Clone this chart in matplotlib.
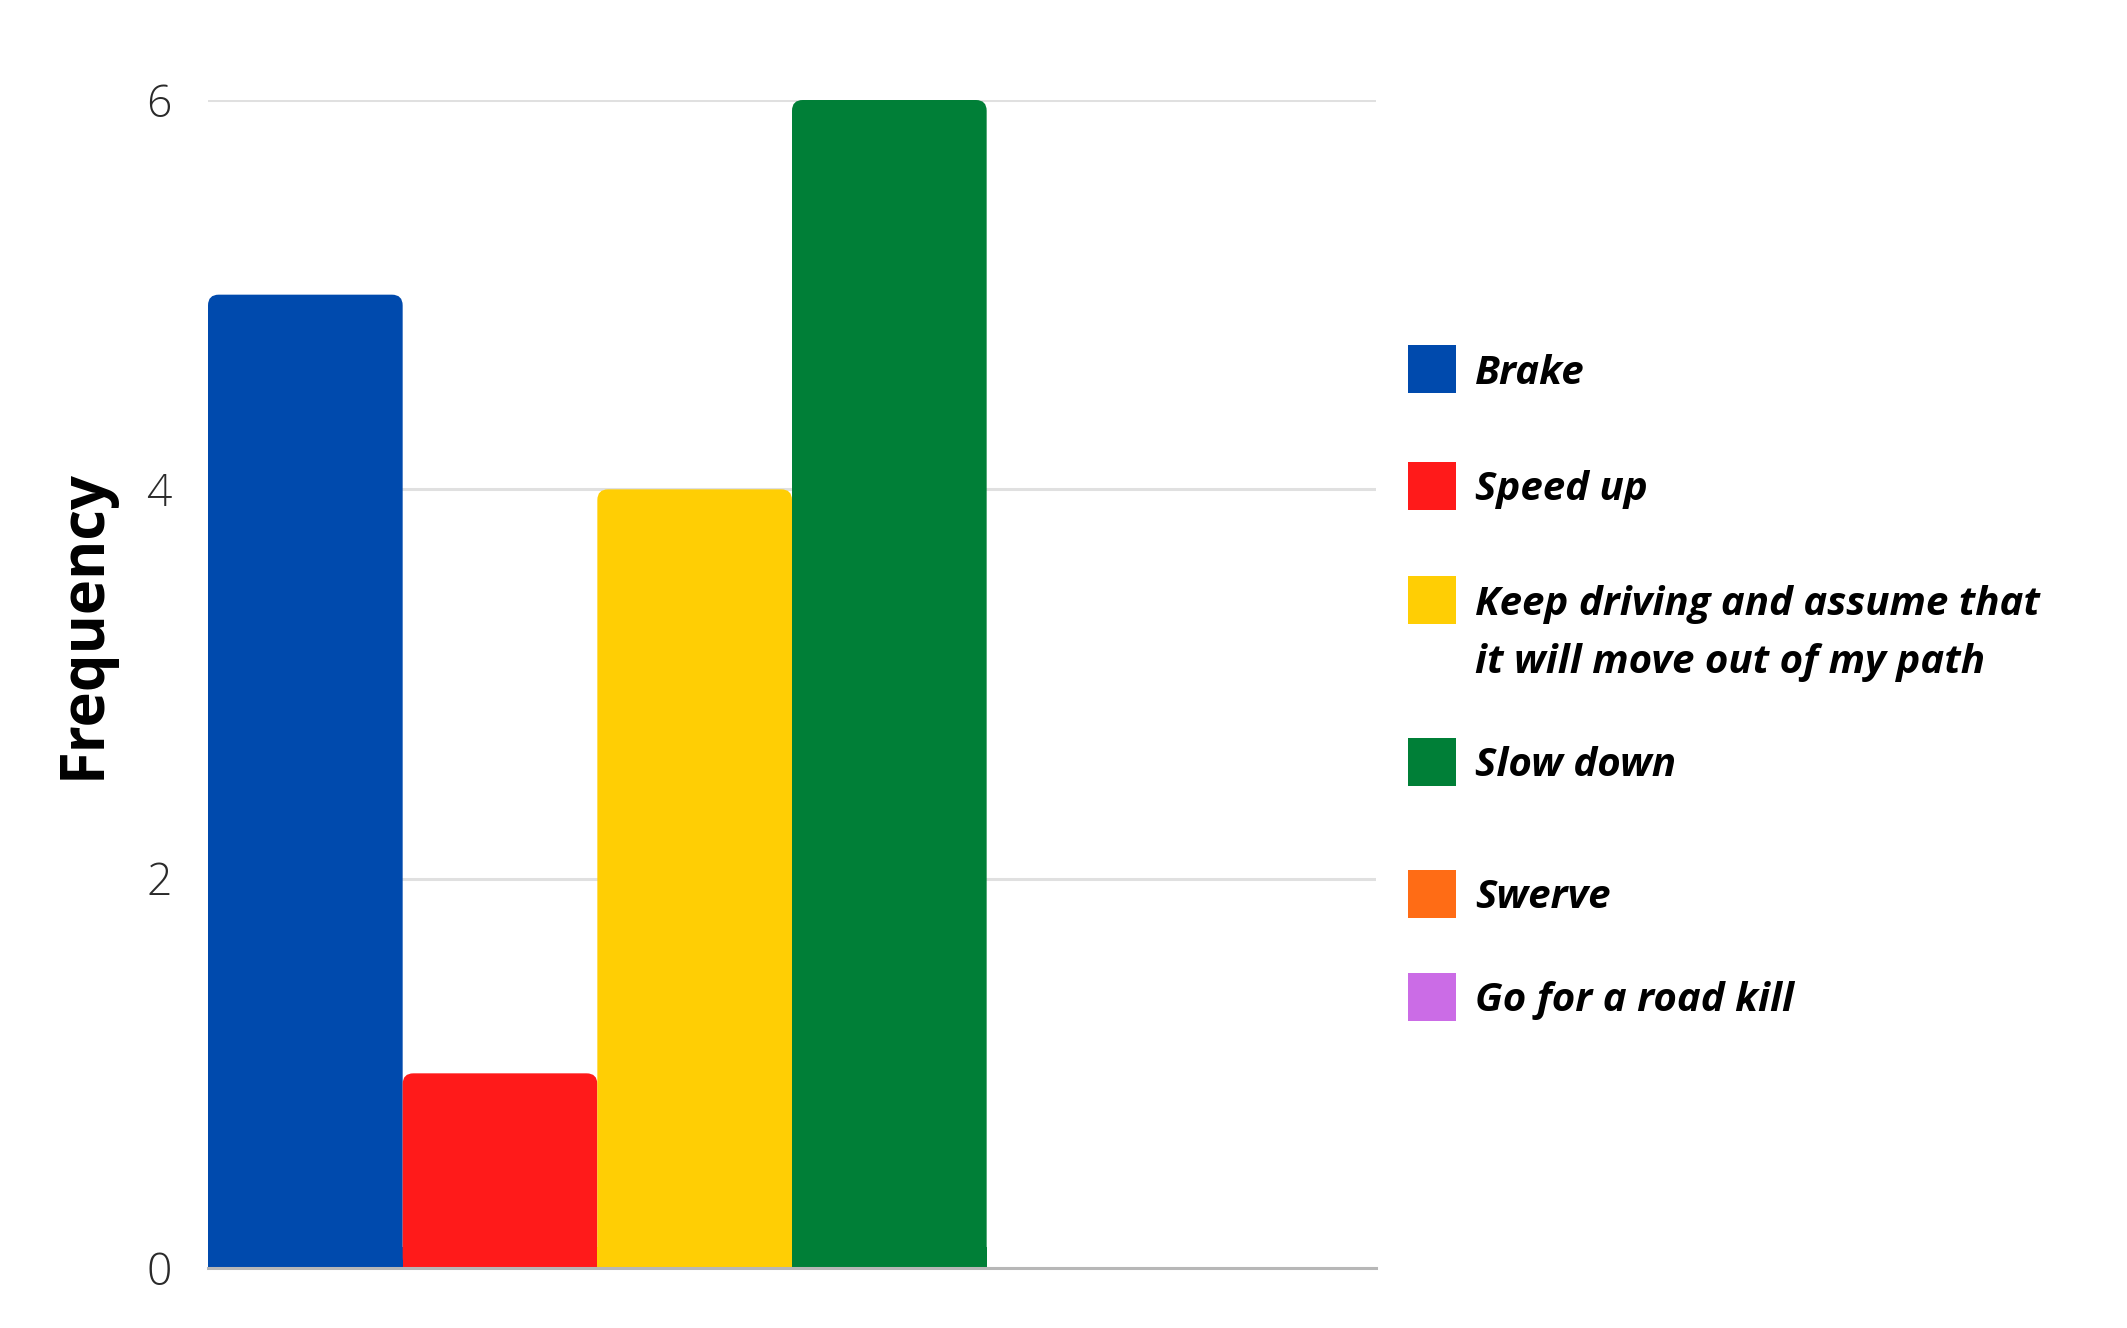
import matplotlib
matplotlib.use("Agg")
import matplotlib.pyplot as plt
from matplotlib.patches import FancyBboxPatch, Rectangle

categories = ["Brake", "Speed up", "Keep driving and assume that\nit will move out of my path",
              "Slow down", "Swerve", "Go for a road kill"]
values = [5, 1, 4, 6, 0, 0]
colors = ["#004AAD", "#FF1A1A", "#FFCE04", "#007F37", "#FF6C15", "#CB6CE6"]
yticks = [0, 2, 4, 6]

W, H = 2127, 1328
fig = plt.figure(figsize=(W / 100, H / 100), dpi=100)
fig.patch.set_facecolor("white")
ax = fig.add_axes([208 / W, 60 / H, (1376 - 208) / W, (1268 - 100) / H])

x = list(range(len(values)))
bars = ax.bar(x, values, width=1.0, color=colors, zorder=3)
r = 0.055
for b in bars:
    h = b.get_height()
    if h <= 0:
        continue
    b.set_visible(False)
    x0, w = b.get_x(), b.get_width()
    ax.add_patch(FancyBboxPatch((x0, 0), w, h, boxstyle=f"round,pad=0,rounding_size={r}",
                                mutation_aspect=1.0, fc=b.get_facecolor(), ec="none",
                                lw=0, zorder=3))
    ax.add_patch(Rectangle((x0, 0), w, min(h, 2 * r), fc=b.get_facecolor(), ec="none",
                           lw=0, zorder=3))

ax.set_xlim(-0.5, len(values) - 0.5)
ax.set_ylim(0, 6)
ax.set_yticks(yticks)
ax.set_yticklabels([str(t) for t in yticks], fontfamily="Open Sans", fontweight="light",
                   fontsize=32, color="#2a2a2a")
ax.tick_params(axis="y", length=0, pad=26)
ax.set_xticks([])
for s in ["top", "right", "left"]:
    ax.spines[s].set_visible(False)
ax.spines["bottom"].set_color("#b7b7b7")
ax.spines["bottom"].set_linewidth(2.2)
ax.spines["bottom"].set_zorder(4)
ax.yaxis.grid(True, color="#e0e0e0", linewidth=2.2, zorder=0)
ax.set_axisbelow(True)

fig.text(84 / W, 1 - 624 / H, "Frequency", rotation=90, ha="center", va="center",
         fontfamily="Open Sans", fontweight="bold", fontsize=43, color="black")

# legend (manual)
leg_y = [369, 486, 600, 762, 894, 997]
sq = 48
for cat, col, yc in zip(categories, colors, leg_y):
    fig.patches.append(Rectangle((1408 / W, 1 - (yc + sq / 2) / H), sq / W, sq / H,
                                 transform=fig.transFigure, fc=col, ec="none"))
    lines = cat.split("\n")
    for i, line in enumerate(lines):
        fig.text(1475 / W, 1 - (yc + 4 + i * 58) / H, line, ha="left", va="center",
                 fontfamily="Open Sans", fontweight="bold", fontstyle="italic",
                 fontsize=29, color="black")

fig.savefig("out.png", dpi=100, facecolor="white")
